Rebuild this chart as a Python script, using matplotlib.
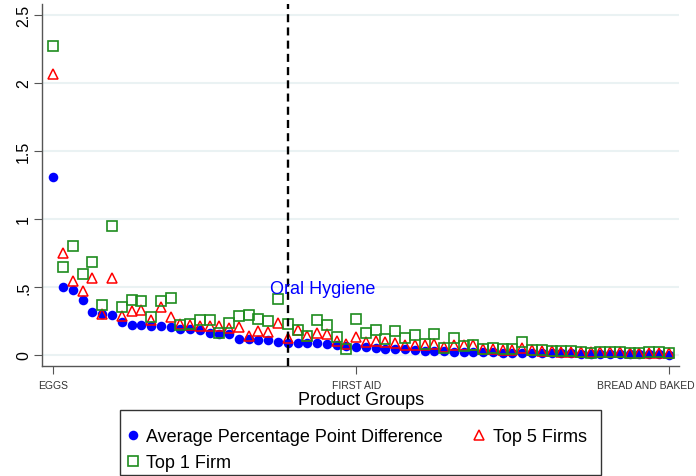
import numpy as np
import matplotlib
matplotlib.use("Agg")
import matplotlib.pyplot as plt
from matplotlib.patches import Rectangle

plt.rcParams['font.family'] = ['Liberation Sans', 'DejaVu Sans']

# product groups sorted by the average gap (64 groups)
avg_diff = [1.306, 0.502, 0.480, 0.402, 0.318, 0.300, 0.294, 0.245, 0.223, 0.220,
            0.216, 0.214, 0.203, 0.192, 0.190, 0.185, 0.160, 0.154, 0.152, 0.118,
            0.116, 0.113, 0.108, 0.095, 0.088, 0.087, 0.086, 0.085, 0.083, 0.076,
            0.069, 0.060, 0.056, 0.054, 0.046, 0.044, 0.042, 0.034, 0.032, 0.028,
            0.027, 0.025, 0.024, 0.022, 0.020, 0.019, 0.018, 0.017, 0.016, 0.015,
            0.014, 0.013, 0.012, 0.011, 0.010, 0.009, 0.008, 0.008, 0.007, 0.006,
            0.006, 0.005, 0.004, 0.003]
top5 = [2.066, 0.750, 0.544, 0.470, 0.568, 0.300, 0.563, 0.289, 0.321, 0.330,
        0.255, 0.356, 0.277, 0.228, 0.224, 0.213, 0.213, 0.213, 0.200, 0.209,
        0.140, 0.179, 0.169, 0.238, 0.123, 0.186, 0.142, 0.162, 0.154, 0.105,
        0.081, 0.130, 0.093, 0.102, 0.093, 0.087, 0.072, 0.076, 0.072, 0.083,
        0.056, 0.075, 0.075, 0.075, 0.044, 0.044, 0.040, 0.040, 0.049, 0.040,
        0.027, 0.027, 0.024, 0.023, 0.022, 0.021, 0.020, 0.020, 0.019, 0.018,
        0.018, 0.017, 0.016, 0.015]
top1 = [2.274, 0.645, 0.804, 0.596, 0.680, 0.368, 0.951, 0.352, 0.405, 0.396,
        0.277, 0.398, 0.419, 0.218, 0.228, 0.260, 0.260, 0.163, 0.238, 0.283,
        0.292, 0.265, 0.252, 0.411, 0.228, 0.186, 0.142, 0.260, 0.223, 0.130,
        0.046, 0.265, 0.165, 0.185, 0.118, 0.179, 0.122, 0.145, 0.084, 0.154,
        0.052, 0.122, 0.069, 0.070, 0.047, 0.048, 0.044, 0.042, 0.093, 0.040,
        0.036, 0.030, 0.028, 0.027, 0.020, 0.018, 0.019, 0.024, 0.020, 0.018,
        0.018, 0.024, 0.020, 0.018]

tick_groups = ["EGGS", "FIRST AID", "BREAD AND BAKED"]
tick_idx = [0, 31, 63]
cutoff_idx = 24  # Oral Hygiene
cutoff_name = "Oral Hygiene"
y_ticks = [0, 0.5, 1, 1.5, 2, 2.5]
y_tick_labels = ["0", ".5", "1", "1.5", "2", "2.5"]

x = np.arange(len(avg_diff))
W, H = 696, 477

fig = plt.figure(figsize=(W / 100, H / 100), dpi=100)
ax = fig.add_axes([0.0608, 0.2306, 0.9148, 0.7589])

ax.plot(x, avg_diff, 'o', color='blue', markersize=6.9, markeredgewidth=0,
        label='Average Percentage Point Difference', zorder=3)
ax.plot(x, top5, '^', color='red', markerfacecolor='none', markersize=7,
        markeredgewidth=1.1, label='Top 5 Firms', zorder=4)
ax.plot(x, top1, 's', color='#1e8c1e', markerfacecolor='none', markersize=6.8,
        markeredgewidth=1.2, label='Top 1 Firm', zorder=5)

ax.axvline(cutoff_idx, color='black', linewidth=1.7, linestyle=(0, (3.4, 2.2)), zorder=6)
ax.text(cutoff_idx - 1.85, 0.49, cutoff_name, color='blue', fontsize=13,
        ha='left', va='center', zorder=7)

ax.set_xlim(-1.13, 64.05)
ax.set_ylim(-0.081, 2.58)

ax.set_yticks(y_ticks)
ax.set_yticklabels(y_tick_labels, rotation=90, va='center', fontsize=11.5)
ax.yaxis.grid(True, color='#eaf2f3', linewidth=1.5, zorder=0)
ax.set_axisbelow(True)

# the last group name sits left of its tick so it stays inside the figure
ax.set_xticks(tick_idx)
ax.set_xticklabels(tick_groups[:-1] + [""], fontsize=7.5, color='#333333')
ax.annotate(tick_groups[-1], xy=(tick_idx[-1], 0), xycoords=ax.get_xaxis_transform(),
            xytext=(-16.5, -10.3), textcoords='offset points', ha='center', va='top',
            fontsize=7.5, color='#333333')
ax.tick_params(axis='x', length=6, pad=4, color='#555555')
ax.tick_params(axis='y', length=6, pad=2, color='#555555')
ax.set_xlabel("Product Groups", fontsize=13, labelpad=1)

for side in ['top', 'right']:
    ax.spines[side].set_visible(False)
for side in ['left', 'bottom']:
    ax.spines[side].set_color('#555555')
    ax.spines[side].set_linewidth(1.0)

# legend: two columns, frame drawn as a separate box
handles, labels = ax.get_legend_handles_labels()
order = [0, 2, 1]
leg = fig.legend([handles[i] for i in order], [labels[i] for i in order],
                 ncol=2, loc='upper left', bbox_to_anchor=(120 / W, 1 - 419 / H),
                 borderaxespad=0, fontsize=13, frameon=False,
                 borderpad=0.55, handlelength=0.3, handletextpad=0.6,
                 columnspacing=1.87, labelspacing=0.51)
fig.patches.append(Rectangle((120 / W, 1 - 476 / H), 481 / W, 65 / H,
                             transform=fig.transFigure, fill=False,
                             edgecolor='#333333', linewidth=1.0))

fig.savefig("out.png", dpi=100)
